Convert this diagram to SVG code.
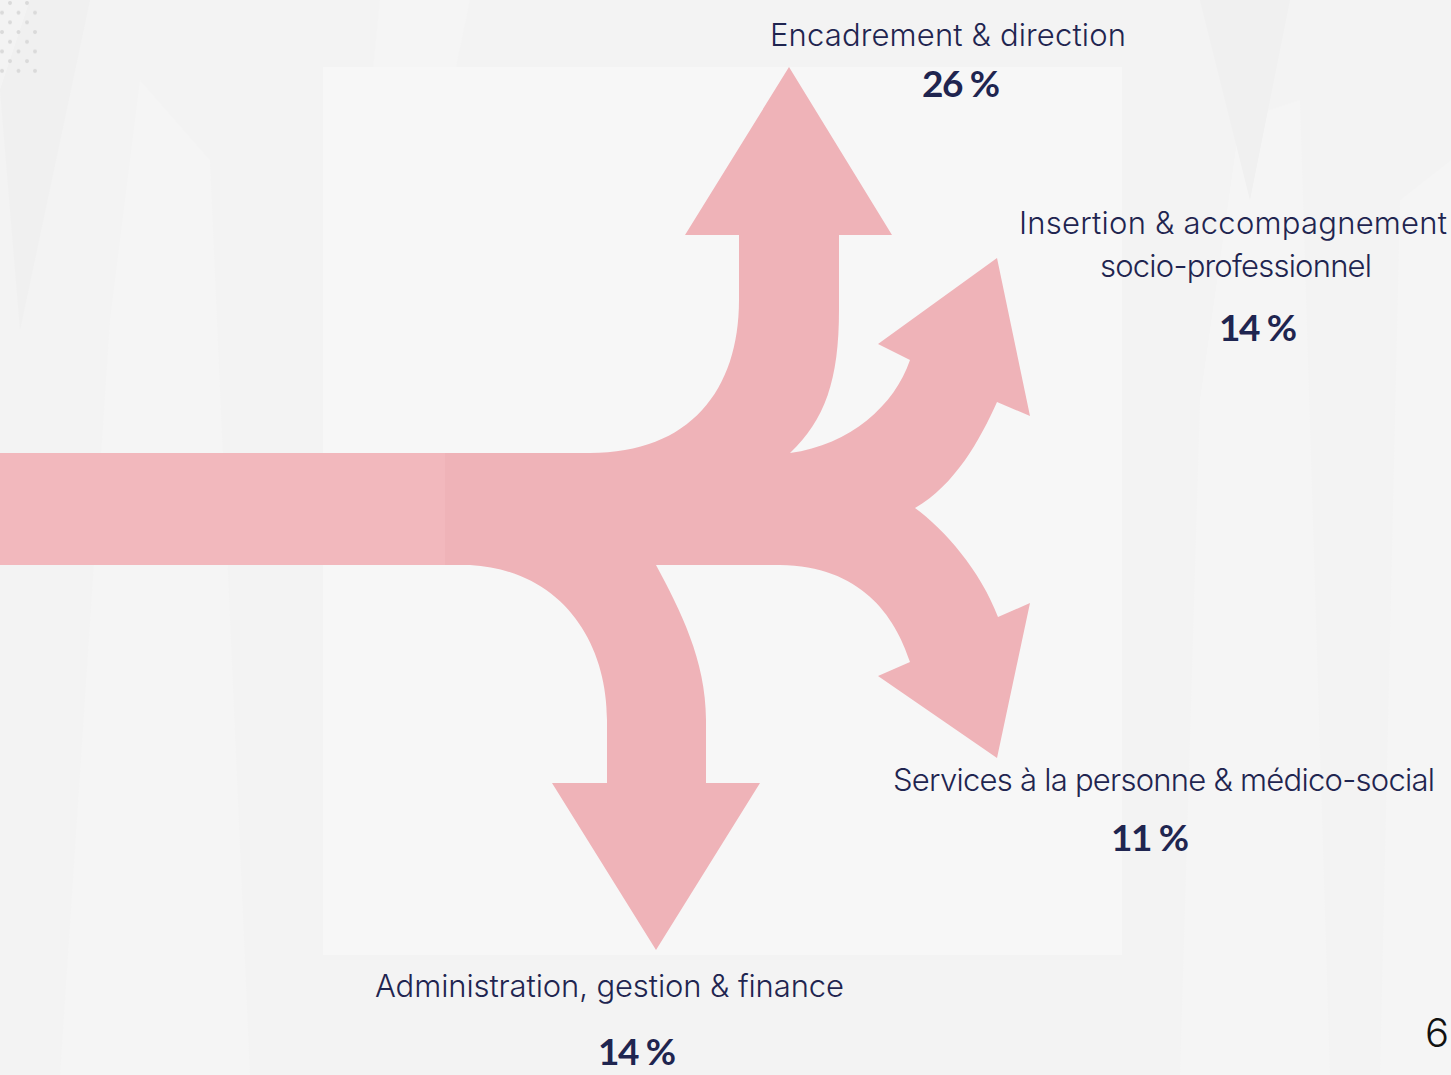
<svg xmlns="http://www.w3.org/2000/svg" width="1451" height="1075" viewBox="0 0 1451 1075">
  <defs>
    <style>
      .lbl { font-family: Inter, "Open Sans", "Liberation Sans", sans-serif; font-weight: 300; font-size: 31px; fill: #1f2550; }
      .pct { font-family: Lato, "Liberation Sans", sans-serif; font-weight: 700; font-size: 37px; fill: #1f2550; }
      .dot { fill: #dadada; }
      .flow { fill: #efb3b8; }
    </style>
    <pattern id="dots" x="0" y="0" width="33" height="19.4" patternUnits="userSpaceOnUse">
      <circle cx="10" cy="3" r="2" class="dot"/>
      <circle cx="27" cy="3" r="2" class="dot"/>
      <circle cx="2" cy="12.7" r="2" class="dot"/>
      <circle cx="18.5" cy="12.7" r="2" class="dot"/>
    </pattern>
  </defs>

  <!-- backdrop -->
  <rect x="0" y="0" width="1451" height="1075" fill="#f3f3f3"/>
  <g id="backdrop-shapes" fill="#f5f5f5">
    <polygon points="60,1075 110,320 140,80 210,160 250,1075"/>
    <polygon points="1180,1075 1200,400 1240,120 1300,100 1330,1075"/>
    <polygon points="1380,1075 1400,200 1451,160 1451,1075"/>
    <polygon points="380,0 470,0 420,240 360,200"/>
  </g>
  <g fill="#f0f0f0">
    <polygon points="0,90 30,0 90,0 20,330"/>
    <polygon points="1200,0 1290,0 1250,200"/>
  </g>
  <rect x="323" y="67" width="799" height="888" fill="#f7f7f7"/>
  <rect x="0" y="0" width="40" height="74" fill="url(#dots)"/>

  <!-- incoming band and branching arrows -->
  <g id="connectors">
    <rect x="0" y="453" width="450" height="112" fill="#f2b8bd"/>
    <path class="flow" d="M 445 453 L 590 453 C 690 453 739 390 739 300 L 739 235 L 685 235 L 789 67 L 892 235 L 839 235 L 839 310 C 839 380 825 420 790 453 C 850 445 895 405 910 360 L 878 344 L 997 258 L 1030 416 L 997 402 C 980 440 955 485 915 508 C 945 530 980 570 998 617 L 1030 603 L 997 758 L 878 676 L 910 662 C 895 615 860 566 780 565 L 656 565 C 680 610 706 660 706 720 L 706 783 L 760 783 L 656 950 L 552 783 L 607 783 L 607 720 C 607 640 560 570 470 565 L 445 565 Z"/>
  </g>

  <g id="node-encadrement">
    <text class="lbl" x="770" y="46" textLength="356" lengthAdjust="spacing">Encadrement &amp; direction</text>
    <text class="pct" x="922" y="97" textLength="78" lengthAdjust="spacing">26 %</text>
  </g>

  <g id="node-insertion">
    <text class="lbl" x="1019" y="234" textLength="428" lengthAdjust="spacing">Insertion &amp; accompagnement</text>
    <text class="lbl" x="1100" y="277" textLength="272" lengthAdjust="spacing">socio-professionnel</text>
    <text class="pct" x="1219" y="341" textLength="78" lengthAdjust="spacing">14 %</text>
  </g>

  <g id="node-services">
    <text class="lbl" x="893" y="791" textLength="542" lengthAdjust="spacing">Services à la personne &amp; médico-social</text>
    <text class="pct" x="1111" y="851" textLength="78" lengthAdjust="spacing">11 %</text>
  </g>

  <g id="node-administration">
    <text class="lbl" x="375" y="997" textLength="469" lengthAdjust="spacing">Administration, gestion &amp; finance</text>
    <text class="pct" x="598" y="1065" textLength="78" lengthAdjust="spacing">14 %</text>
  </g>

  <text x="1425" y="1047" font-family="Inter, 'Open Sans', sans-serif" font-weight="300" font-size="40" fill="#111111">6</text>
</svg>
